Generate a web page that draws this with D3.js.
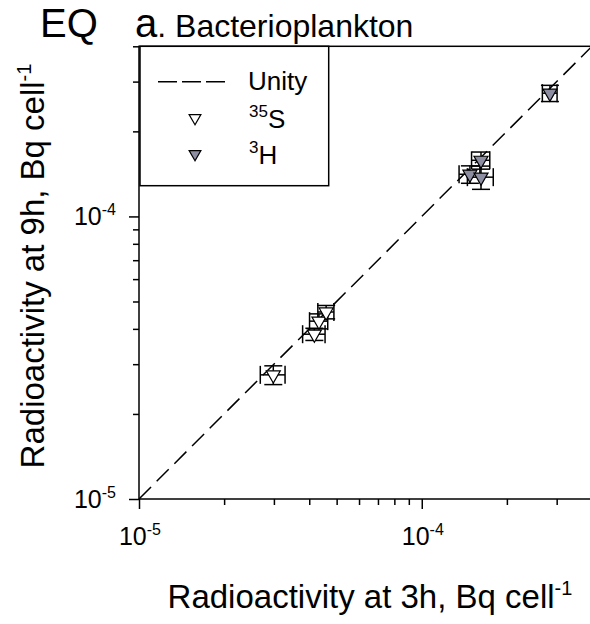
<!DOCTYPE html>
<html><head><meta charset="utf-8">
<script src="https://cdn.jsdelivr.net/npm/d3@7"></script>
<style>body{margin:0;background:#fff} text{font-family:Arial,"Liberation Sans",sans-serif;fill:#000}</style>
</head><body><svg id="c" width="590" height="624"></svg>
<script>
// ---- data ----
const majorTicks = [1e-5, 1e-4];
const majorLabels = ["-5", "-4"];
const minorTicks = [2e-5, 3e-5, 4e-5, 5e-5, 6e-5, 7e-5, 8e-5, 9e-5, 2e-4, 3e-4, 4e-4];
const domain = [1e-5, 4e-4];
const unity = [1e-5, 4e-4];

// 35S (open triangles)
const s35X    = [2.985e-5, 4.17e-5, 4.33e-5, 4.59e-5];
const s35Y    = [2.75e-5, 3.83e-5, 4.26e-5, 4.59e-5];
const s35XErr = [3.0e-6, 3.8e-6, 3.2e-6, 3.0e-6];
const s35YErr = [2.1e-6, 1.9e-6, 2.6e-6, 2.5e-6];

// 3H (filled triangles)
const h3X    = [1.62e-4, 1.48e-4, 1.62e-4, 2.84e-4];
const h3Y    = [1.58e-4, 1.41e-4, 1.377e-4, 2.73e-4];
const h3XErr = [1.2e-5, 1.25e-5, 1.7e-5, 1.7e-5];
const h3YErr = [1.1e-5, 1.0e-5, 1.3e-5, 1.8e-5];

// ---- layout ----
const svg = d3.select("#c");
const x = d3.scaleLog().domain(domain).range([139, 592]);
const y = d3.scaleLog().domain(domain).range([499, 46.3]);

// frame
svg.append("rect").attr("x", 139).attr("y", 46.3).attr("width", 592 - 139).attr("height", 499 - 46.3)
  .attr("fill", "none").attr("stroke", "#000").attr("stroke-width", 1.5);

// axes
function styleAxis(g) {
  g.select(".domain").remove();
  g.selectAll("line").attr("stroke", "#000").attr("stroke-width", 1.5);
  g.selectAll("text").remove();
}
svg.append("g").attr("transform", "translate(0,499)")
  .call(d3.axisBottom(x).tickValues(majorTicks).tickSize(10)).call(styleAxis);
svg.append("g").attr("transform", "translate(0,499)")
  .call(d3.axisBottom(x).tickValues(minorTicks).tickSize(6)).call(styleAxis);
svg.append("g").attr("transform", "translate(139,0)")
  .call(d3.axisLeft(y).tickValues(majorTicks).tickSize(10)).call(styleAxis);
svg.append("g").attr("transform", "translate(139,0)")
  .call(d3.axisLeft(y).tickValues(minorTicks).tickSize(6)).call(styleAxis);

// tick labels with superscripts
majorTicks.forEach((v, i) => {
  const tx = svg.append("text").attr("x", x(v) + 1).attr("y", 545).attr("text-anchor", "middle").attr("font-size", 25);
  tx.append("tspan").text("10");
  tx.append("tspan").attr("dy", -10).attr("font-size", 16).text(majorLabels[i]);
  const ty = svg.append("text").attr("x", 116).attr("y", y(v) + 9).attr("text-anchor", "end").attr("font-size", 25);
  ty.append("tspan").text("10");
  ty.append("tspan").attr("dy", -10).attr("font-size", 16).text(majorLabels[i]);
});

// unity line
svg.append("line")
  .attr("x1", x(unity[0])).attr("y1", y(unity[0]))
  .attr("x2", x(unity[1])).attr("y2", y(unity[1]))
  .attr("stroke", "#000").attr("stroke-width", 1.5).attr("stroke-dasharray", "17,8");

// error bars + markers
const cap = 9;
function drawSeries(X, Y, XE, YE, fill, size) {
  const g = svg.append("g");
  X.forEach((xv, i) => {
    const yv = Y[i];
    const cx = x(xv), cy = y(yv);
    const x0 = x(xv - XE[i]), x1 = x(xv + XE[i]);
    const y0 = y(yv - YE[i]), y1 = y(yv + YE[i]);
    const e = g.append("g").attr("stroke", "#000").attr("stroke-width", 1.5);
    e.append("line").attr("x1", x0).attr("x2", x1).attr("y1", cy).attr("y2", cy);
    e.append("line").attr("x1", x0).attr("x2", x0).attr("y1", cy - cap).attr("y2", cy + cap);
    e.append("line").attr("x1", x1).attr("x2", x1).attr("y1", cy - cap).attr("y2", cy + cap);
    e.append("line").attr("x1", cx).attr("x2", cx).attr("y1", y0).attr("y2", y1);
    e.append("line").attr("x1", cx - cap).attr("x2", cx + cap).attr("y1", y0).attr("y2", y0);
    e.append("line").attr("x1", cx - cap).attr("x2", cx + cap).attr("y1", y1).attr("y2", y1);
  });
  X.forEach((xv, i) => {
    g.append("path").attr("d", d3.symbol(d3.symbolTriangle, size)())
      .attr("transform", `translate(${x(xv)},${y(Y[i])}) rotate(180)`)
      .attr("fill", fill).attr("stroke", "#000").attr("stroke-width", 1.2);
  });
}
drawSeries(s35X, s35Y, s35XErr, s35YErr, "#fff", 85);
drawSeries(h3X, h3Y, h3XErr, h3YErr, "#8e8ea3", 85);

// legend
const lg = svg.append("g");
lg.append("rect").attr("x", 140).attr("y", 46.3).attr("width", 188.7).attr("height", 139.4)
  .attr("fill", "#fff").attr("stroke", "#000").attr("stroke-width", 1.5);
lg.append("line").attr("x1", 158).attr("x2", 225).attr("y1", 81.7).attr("y2", 81.7)
  .attr("stroke", "#000").attr("stroke-width", 1.5).attr("stroke-dasharray", "19,5");
lg.append("text").attr("x", 248).attr("y", 90).attr("font-size", 26).text("Unity");
lg.append("path").attr("d", d3.symbol(d3.symbolTriangle, 60)())
  .attr("transform", "translate(195,118) rotate(180)").attr("fill", "#fff").attr("stroke", "#000").attr("stroke-width", 1.2);
lg.append("path").attr("d", d3.symbol(d3.symbolTriangle, 60)())
  .attr("transform", "translate(195,154) rotate(180)").attr("fill", "#8e8ea3").attr("stroke", "#000").attr("stroke-width", 1.2);
const t35 = lg.append("text").attr("x", 249).attr("y", 128).attr("font-size", 26);
t35.append("tspan").attr("font-size", 17).attr("dy", -11).text("35");
t35.append("tspan").attr("dy", 11).text("S");
const t3 = lg.append("text").attr("x", 249).attr("y", 164).attr("font-size", 26);
t3.append("tspan").attr("font-size", 17).attr("dy", -11).text("3");
t3.append("tspan").attr("dy", 11).text("H");

// titles
svg.append("text").attr("x", 40).attr("y", 37).attr("font-size", 40).text("EQ");
const tt = svg.append("text").attr("x", 135).attr("y", 37);
tt.append("tspan").attr("font-size", 40).text("a");
tt.append("tspan").attr("font-size", 32).text(". Bacterioplankton");

// axis titles
const xt = svg.append("text").attr("x", 370).attr("y", 608).attr("text-anchor", "middle").attr("font-size", 33);
xt.append("tspan").text("Radioactivity at 3h, Bq cell");
xt.append("tspan").attr("dy", -13).attr("font-size", 20).text("-1");

const yt = svg.append("text").attr("transform", "translate(44,266) rotate(-90)").attr("text-anchor", "middle").attr("font-size", 33);
yt.append("tspan").text("Radioactivity at 9h, Bq cell");
yt.append("tspan").attr("dy", -13).attr("font-size", 20).text("-1");
</script></body></html>
